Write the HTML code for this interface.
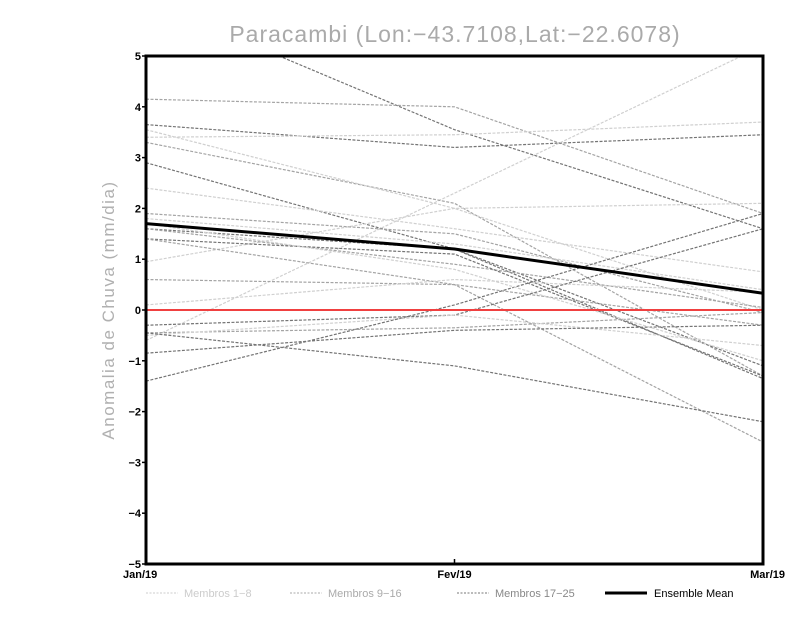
<!DOCTYPE html>
<html><head><meta charset="utf-8"><style>
body{margin:0;background:#fff;}
svg{display:block;font-family:"Liberation Sans",sans-serif;}
</style></head><body>
<svg id="chart" width="800" height="618">
<defs><clipPath id="clip"><rect x="146" y="56" width="617" height="508"/></clipPath></defs>
<text x="455" y="42" text-anchor="middle" font-size="23" fill="#aaa" letter-spacing="1">Paracambi (Lon:−43.7108,Lat:−22.6078)</text>
<text transform="translate(114,310) rotate(-90)" text-anchor="middle" font-size="17" fill="#b0b0b0" letter-spacing="1.5">Anomalia de Chuva (mm/dia)</text>
<g id="lines" clip-path="url(#clip)"></g>
<g id="axes"></g>
<g id="legend">
<line x1="146" y1="593" x2="178" y2="593" stroke="#ccc" stroke-dasharray="2,1.5"/>
<text x="184" y="597" font-size="11" fill="#ccc">Membros 1−8</text>
<line x1="290" y1="593" x2="322" y2="593" stroke="#aaa" stroke-dasharray="2,1.5"/>
<text x="328" y="597" font-size="11" fill="#aaa">Membros 9−16</text>
<line x1="457" y1="593" x2="489" y2="593" stroke="#777" stroke-dasharray="2,1.5"/>
<text x="495" y="597" font-size="11" fill="#888">Membros 17−25</text>
<line x1="605" y1="593" x2="647" y2="593" stroke="#000" stroke-width="3"/>
<text x="654" y="597" font-size="11" fill="#000">Ensemble Mean</text>
</g>
</svg>
<script>
const categories=["Jan/19","Fev/19","Mar/19"];
const yTicks=[-5,-4,-3,-2,-1,0,1,2,3,4,5];
const memberValues=[
[6.1,3.55,1.6],[4.15,4.0,1.9],[3.65,3.2,3.45],[3.4,3.45,3.7],[-0.6,2.3,5.2],
[3.3,2.1,-1.3],[3.55,2.0,0.0],[2.9,1.2,-1.1],[2.4,1.6,0.75],[0.95,2.0,2.1],
[1.9,1.5,-0.05],[1.8,1.3,0.4],[1.6,1.2,-1.35],[1.6,0.9,0.05],[1.4,1.1,-1.3],
[1.4,0.5,-2.6],[0.6,0.5,-0.3],[0.1,0.6,0.35],[-0.3,-0.1,1.6],[-0.45,-0.35,-0.05],
[-0.5,-0.1,-0.7],[-0.85,-0.4,-0.3],[-1.4,0.1,1.9],[-0.45,-1.1,-2.2],[1.7,0.8,-1.0]];
const memberGroups=[2,1,2,0,0,1,0,2,0,0,1,0,2,1,2,1,1,0,2,1,0,2,2,2,0];
const meanValues=[1.7,1.2,0.33];
const groupColors=["#d0d0d0","#a4a4a4","#747474"];
const X0=146,X1=763,Y0=564,Y1=56;
const xs=i=>X0+(X1-X0)*i/(categories.length-1);
const ys=v=>Y0-(v+5)/10*(Y0-Y1);
const NS="http://www.w3.org/2000/svg";
const lines=document.getElementById('lines'),axes=document.getElementById('axes');
function mk(t,a,p){const e=document.createElementNS(NS,t);for(const k in a)e.setAttribute(k,a[k]);p.appendChild(e);return e;}
memberValues.forEach((vals,m)=>{
 const e=mk('polyline',{points:vals.map((v,i)=>xs(i)+','+ys(v)).join(' '),fill:'none',stroke:groupColors[memberGroups[m]],'stroke-width':1.2,'stroke-dasharray':'3,1.5'},lines);
 
 
});
const zl=mk('line',{x1:X0,x2:X1,y1:ys(0),y2:ys(0),stroke:'#f04040','stroke-width':2},lines);


const ml=mk('polyline',{points:meanValues.map((v,i)=>xs(i)+','+ys(v)).join(' '),fill:'none',stroke:'#000','stroke-width':3},lines);


const fr=mk('rect',{x:X0,y:Y1,width:X1-X0,height:Y0-Y1,fill:'none',stroke:'#000','stroke-width':3},axes);


yTicks.forEach(v=>{
 mk('line',{x1:X0-4,x2:X0,y1:ys(v),y2:ys(v),stroke:'#000','stroke-width':1.5},axes);
 const t=mk('text',{x:X0-5,y:ys(v)+4,'text-anchor':'end','font-size':11,'font-weight':'bold'},axes);
 t.textContent=v<0?'−'+(-v):String(v);
 
 
});
categories.forEach((c,i)=>{
 mk('line',{x1:xs(i),x2:xs(i),y1:Y0,y2:Y0-5,stroke:'#000','stroke-width':1.5},axes);
 const t=mk('text',{x:xs(i),y:Y0+14,'text-anchor':i==0?'start':(i==categories.length-1?'end':'middle'),'font-size':11,'font-weight':'bold'},axes);
 if(i==0)t.setAttribute('x',xs(i)-23);
 if(i==categories.length-1)t.setAttribute('x',xs(i)+22);
 t.textContent=c;
 
 
});
</script>
</body></html>
